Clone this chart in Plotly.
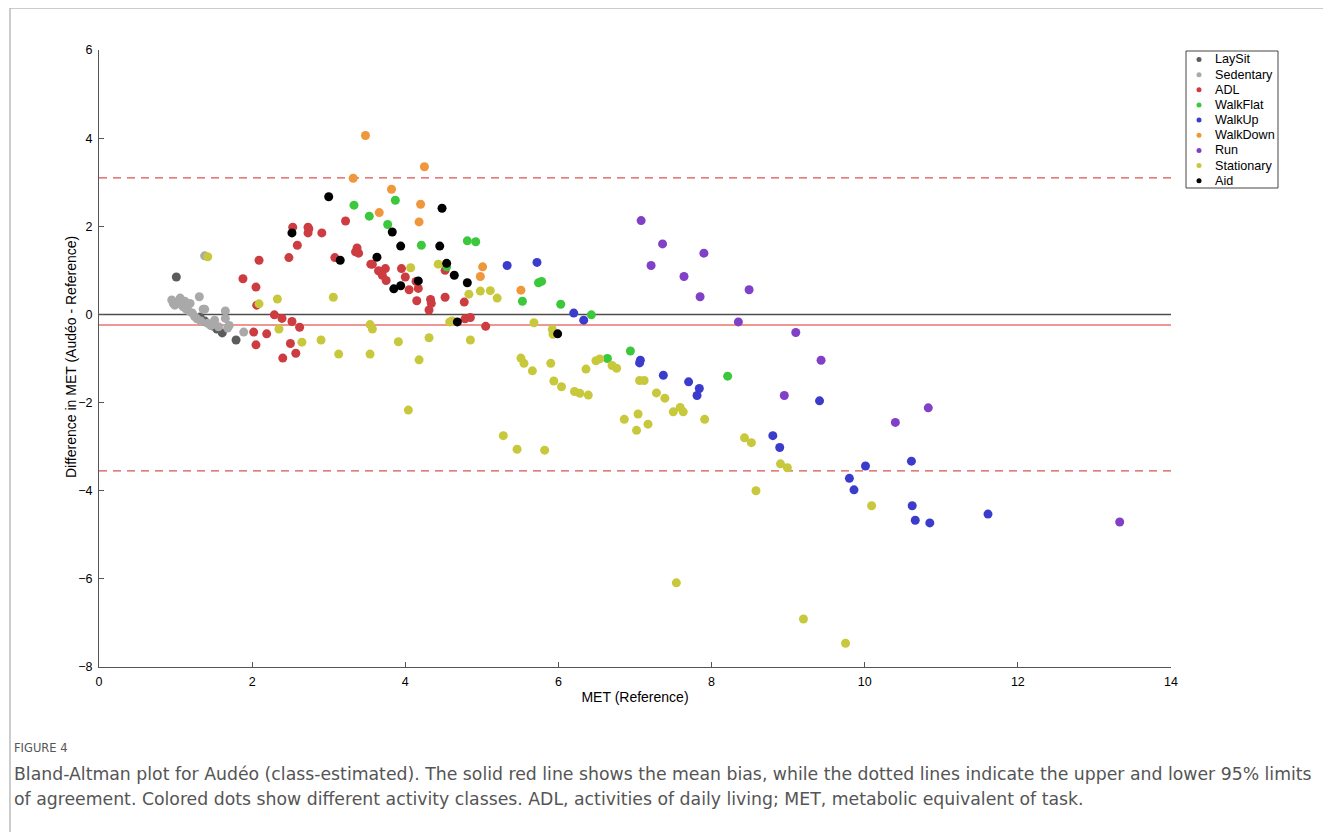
import plotly.graph_objects as go

# ---------------- data ----------------
laysit_x = [1.01, 1.32, 1.38, 1.48, 1.54, 1.61, 1.79]
laysit_y = [0.85, -0.06, -0.15, -0.26, -0.33, -0.42, -0.58]

sedentary_x = [0.95, 0.97, 0.99, 1.02, 1.06, 1.08, 1.10, 1.12, 1.14, 1.17, 1.19, 1.22, 1.25,
               1.28, 1.31, 1.33, 1.36, 1.38, 1.42, 1.46, 1.51, 1.56, 1.65, 1.65, 1.68, 1.70,
               1.89, 1.38]
sedentary_y = [0.33, 0.25, 0.21, 0.28, 0.37, 0.22, 0.17, 0.30, 0.12, 0.08, 0.25, 0.03, -0.05,
               -0.10, 0.40, -0.15, 0.12, 0.12, -0.20, -0.25, -0.13, -0.28, 0.08, -0.09, -0.31,
               -0.25, -0.40, 1.33]

adl_x = [1.88, 2.05, 2.09, 2.06, 2.02, 2.05, 2.19, 2.29, 2.39, 2.40, 2.48, 2.53, 2.52, 2.50,
         2.57, 2.59, 2.62, 2.73, 2.74, 2.73, 2.91, 3.08, 3.22, 3.37, 3.35, 3.39, 3.55, 3.57,
         3.74, 3.65, 3.70, 3.75, 3.95, 4.00, 4.05, 4.17, 4.15, 4.33, 4.34, 4.31, 4.52, 4.52,
         4.77, 4.78, 4.85, 5.05, 4.14]
adl_y = [0.81, 0.62, 1.23, 0.21, -0.40, -0.69, -0.44, -0.01, -0.09, -0.99, 1.29, 1.98, -0.16,
         -0.66, -0.88, 1.57, -0.29, 1.98, 1.94, 1.85, 1.85, 1.29, 2.12, 1.51, 1.42, 1.39, 1.14,
         1.14, 1.04, 0.99, 0.89, 0.77, 1.04, 0.85, 0.56, 0.59, 0.31, 0.34, 0.25, 0.10, 1.00,
         0.39, 0.28, -0.10, -0.07, -0.27, 0.75]

walkflat_x = [3.33, 3.53, 3.77, 3.87, 4.21, 4.81, 4.92, 4.54, 5.74, 5.78, 5.53, 6.03, 6.43,
              6.64, 6.94, 8.21]
walkflat_y = [2.48, 2.23, 2.04, 2.59, 1.57, 1.67, 1.65, 1.08, 0.72, 0.75, 0.30, 0.23, -0.01,
              -1.00, -0.83, -1.40]

walkup_x = [5.33, 5.72, 6.20, 6.33, 7.07, 7.06, 7.37, 7.70, 7.84, 7.81, 8.80, 8.89, 9.41,
            10.01, 9.80, 9.86, 10.61, 10.62, 10.66, 10.85, 11.61]
walkup_y = [1.11, 1.18, 0.03, -0.13, -1.04, -1.10, -1.38, -1.53, -1.68, -1.84, -2.75, -3.02,
            -1.96, -3.44, -3.72, -3.98, -3.33, -4.34, -4.67, -4.73, -4.53]

walkdown_x = [3.48, 4.25, 3.32, 3.82, 3.66, 4.20, 4.18, 5.01, 4.98, 5.51]
walkdown_y = [4.06, 3.35, 3.09, 2.84, 2.31, 2.50, 2.10, 1.08, 0.86, 0.55]

run_x = [7.08, 7.36, 7.21, 7.90, 7.64, 7.85, 8.49, 8.35, 9.10, 9.43, 8.95, 10.40, 10.83, 13.33]
run_y = [2.13, 1.60, 1.11, 1.39, 0.86, 0.40, 0.56, -0.17, -0.41, -1.04, -1.84, -2.45, -2.12,
         -4.71]

stationary_x = [1.42, 2.09, 2.33, 2.35, 2.65, 2.90, 3.06, 3.13, 3.54, 3.57, 3.54, 3.91, 4.07,
                4.18, 4.31, 4.43, 4.58, 4.61, 4.85, 4.83, 4.98, 5.11, 5.20, 4.04, 5.68, 5.92,
                5.93, 5.51, 5.55, 5.90, 5.66, 5.94, 6.04, 6.21, 6.28, 6.39, 6.36, 6.49, 6.54,
                6.70, 6.76, 5.28, 5.46, 5.82, 7.06, 7.12, 7.28, 7.39, 6.86, 7.04, 7.02, 7.17,
                7.50, 7.59, 7.63, 7.91, 8.43, 8.52, 7.54, 8.90, 8.99, 8.58, 10.09, 9.20, 9.75]
stationary_y = [1.31, 0.24, 0.35, -0.33, -0.63, -0.58, 0.39, -0.90, -0.23, -0.33, -0.90, -0.62,
                1.06, -1.03, -0.53, 1.14, -0.17, -0.15, -0.58, 0.46, 0.53, 0.54, 0.37, -2.17,
                -0.19, -0.34, -0.45, -0.99, -1.11, -1.11, -1.28, -1.51, -1.64, -1.75, -1.79,
                -1.83, -1.24, -1.05, -1.01, -1.16, -1.22, -2.75, -3.06, -3.08, -1.50, -1.50,
                -1.78, -1.90, -2.38, -2.26, -2.63, -2.49, -2.21, -2.11, -2.21, -2.38, -2.80,
                -2.91, -6.09, -3.39, -3.48, -4.00, -4.34, -6.91, -7.46]

aid_x = [3.00, 4.48, 2.52, 3.83, 3.94, 4.45, 3.15, 3.63, 4.54, 4.64, 4.81, 3.85, 3.94, 4.17,
         4.68, 5.99]
aid_y = [2.67, 2.41, 1.85, 1.87, 1.55, 1.55, 1.23, 1.30, 1.16, 0.89, 0.72, 0.58, 0.65, 0.76,
         -0.17, -0.44]

mean_bias = -0.24
upper_loa = 3.10
lower_loa = -3.55

x_ticks = [0, 2, 4, 6, 8, 10, 12, 14]
y_ticks = [-8, -6, -4, -2, 0, 2, 4, 6]

groups = [
    ("LaySit", laysit_x, laysit_y, "#5c5c5c"),
    ("Sedentary", sedentary_x, sedentary_y, "#a9a9a9"),
    ("ADL", adl_x, adl_y, "#cc3c40"),
    ("WalkFlat", walkflat_x, walkflat_y, "#3cc83c"),
    ("WalkUp", walkup_x, walkup_y, "#3c3ccc"),
    ("WalkDown", walkdown_x, walkdown_y, "#f0963c"),
    ("Run", run_x, run_y, "#8040c8"),
    ("Stationary", stationary_x, stationary_y, "#c8c83c"),
    ("Aid", aid_x, aid_y, "#000000"),
]

FONT = "Liberation Sans, Arial, Helvetica, sans-serif"
CAP_FONT = "DejaVu Sans, sans-serif"

# page-pixel -> paper helpers (plot area spans page px 99..1171 x, 50..667 y)
def px(x):
    return (x - 99) / 1072


def py(y):
    return (667 - y) / 617


fig = go.Figure()

# reference lines (drawn first so dots sit above)
fig.add_trace(go.Scatter(x=[0, 14], y=[0, 0], mode="lines",
                         line=dict(color="#4d4d4d", width=1.4), showlegend=False,
                         hoverinfo="skip"))
fig.add_trace(go.Scatter(x=[0, 14], y=[mean_bias, mean_bias], mode="lines",
                         line=dict(color="#e8756e", width=1.5), showlegend=False,
                         hoverinfo="skip"))
for v in (upper_loa, lower_loa):
    fig.add_trace(go.Scatter(x=[0, 14], y=[v, v], mode="lines",
                             line=dict(color="#d9534f", width=1.2, dash="8px,6px"),
                             showlegend=False, hoverinfo="skip"))

for name, xs, ys, col in groups:
    fig.add_trace(go.Scatter(x=xs, y=ys, mode="markers", name=name,
                             marker=dict(color=col, size=9, line=dict(width=0)),
                             showlegend=False))

fig.update_xaxes(range=[0, 14], tickvals=x_ticks, ticks="inside", ticklen=5,
                 tickcolor="#555555", showline=True, linecolor="#555555", linewidth=1,
                 showgrid=False, zeroline=False, ticklabelstandoff=3,
                 tickfont=dict(family=FONT, size=12.5, color="#000000"),
                 title=dict(text="MET (Reference)", font=dict(family=FONT, size=14, color="#000000"),
                            standoff=4))
fig.update_yaxes(range=[-8, 6], tickvals=y_ticks, ticks="inside", ticklen=5,
                 tickcolor="#555555", showline=True, linecolor="#555555", linewidth=1,
                 showgrid=False, zeroline=False, ticklabelstandoff=3,
                 tickfont=dict(family=FONT, size=12.5, color="#000000"))

shapes = [
    # outer frame (top + left)
    dict(type="line", xref="paper", yref="paper", x0=px(10), x1=px(1335),
         y0=py(8), y1=py(8), line=dict(color="#999999", width=1)),
    dict(type="line", xref="paper", yref="paper", x0=px(10), x1=px(10),
         y0=py(8), y1=py(840), line=dict(color="#999999", width=1)),
    # legend box
    dict(type="rect", xref="paper", yref="paper", x0=px(1186), x1=px(1278),
         y0=py(51), y1=py(188), line=dict(color="#444444", width=1), fillcolor="white"),
]
annotations = [
    dict(text="Difference in MET (Audéo - Reference)", xref="paper", yref="paper",
         x=px(71), y=py(357), xanchor="center", yanchor="middle", textangle=-90,
         showarrow=False, font=dict(family=FONT, size=14, color="#000000")),
]
for i, (name, xs, ys, col) in enumerate(groups):
    yc = 59.5 + 15.15 * i
    shapes.append(dict(type="circle", xref="paper", yref="paper",
                       xsizemode="pixel", ysizemode="pixel",
                       xanchor=px(1199), yanchor=py(yc),
                       x0=-2.5, x1=2.5, y0=-2.5, y1=2.5,
                       fillcolor=col, line=dict(width=0)))
    annotations.append(dict(text=name, xref="paper", yref="paper", x=px(1213), y=py(yc),
                            xanchor="left", yanchor="middle", showarrow=False,
                            font=dict(family=FONT, size=12.6, color="#000000")))

annotations += [
    dict(text="FIGURE 4", xref="paper", yref="paper", x=px(12), y=py(748),
         xanchor="left", yanchor="middle", showarrow=False,
         font=dict(family=CAP_FONT, size=11.5, color="#555555")),
    dict(text="Bland-Altman plot for Audéo (class-estimated). The solid red line shows the mean bias, "
              "while the dotted lines indicate the upper and lower 95% limits",
         xref="paper", yref="paper", x=px(12), y=py(774),
         xanchor="left", yanchor="middle", showarrow=False,
         font=dict(family=CAP_FONT, size=17.3, color="#555555")),
    dict(text="of agreement. Colored dots show different activity classes. ADL, activities of daily "
              "living; MET, metabolic equivalent of task.",
         xref="paper", yref="paper", x=px(12), y=py(799),
         xanchor="left", yanchor="middle", showarrow=False,
         font=dict(family=CAP_FONT, size=17.3, color="#555555")),
]

fig.update_layout(
    width=1331, height=832, autosize=False,
    margin=dict(l=91, r=168, t=42, b=173),
    paper_bgcolor="white", plot_bgcolor="white",
    font=dict(family=FONT),
    showlegend=False,
    shapes=shapes,
    annotations=annotations,
)

fig.write_html("out.html")
